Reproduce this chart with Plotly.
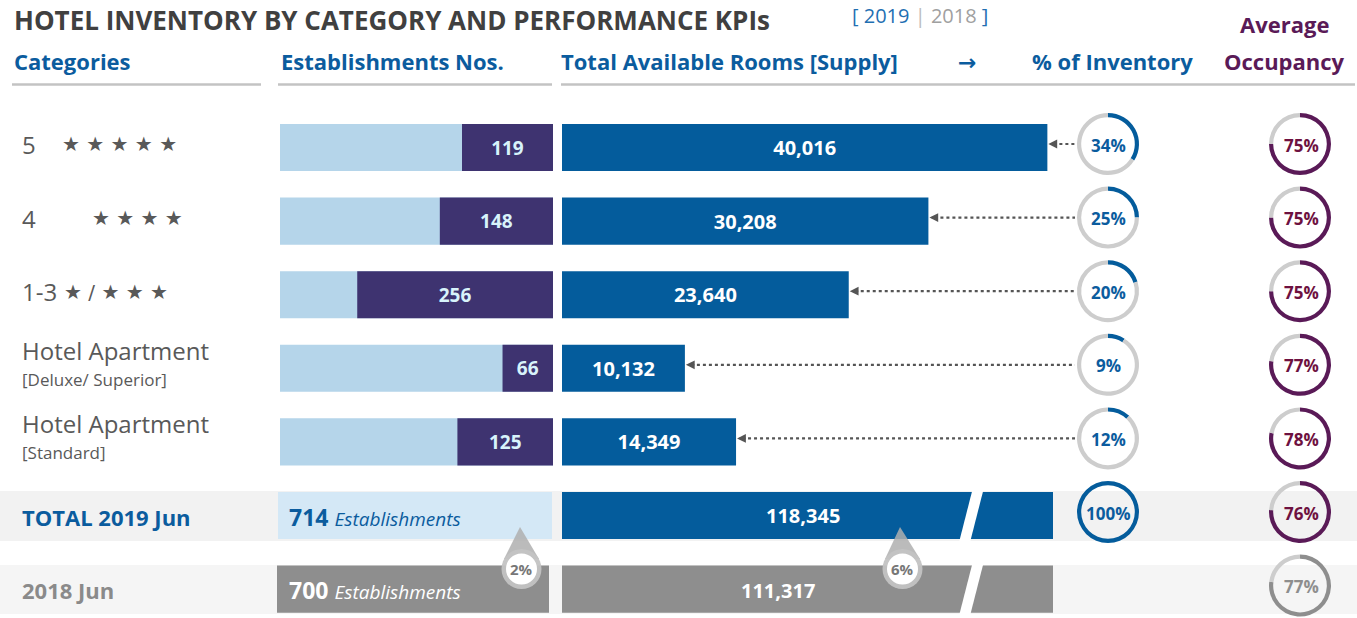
import plotly.graph_objects as go

# ---------------- data ----------------
categories = ["5", "4", "1-3", "Hotel Apartment", "Hotel Apartment"]
cat_stars = ["★ ★ ★ ★ ★", "★ ★ ★ ★", "★ / ★ ★ ★", "", ""]
cat_sub = ["", "", "", "[Deluxe/ Superior]", "[Standard]"]
establishments = [119, 148, 256, 66, 125]
rooms = [40016, 30208, 23640, 10132, 14349]
inventory_pct = [34, 25, 20, 9, 12]
occupancy_pct = [75, 75, 75, 77, 78]

total_labels = ["TOTAL 2019 Jun", "2018 Jun"]
total_establishments = [714, 700]
total_rooms = [118345, 111317]
total_inventory_pct = [100]
total_occupancy_pct = [76, 77]

# ---------------- geometry helpers ----------------
W, H = 1357, 618
def px(x):
    return x / W
def py(y):
    return 1 - y / H

ROW0, ROWSTEP = 147.5, 73.6
def row_y(i):
    return ROW0 + ROWSTEP * i

EST_D = (280, 553)
EST_R = 357
ROOM_D = (562, 1053)
ROOM_R = 40480

BLUE = "#045c9c"
HBLUE = "#0b5c9e"
PURPLE = "#3e3370"
LBLUE = "#b5d5ea"
GREY = "#8e8e8e"
RING = "#cdcdcd"
OCC = "#5a1a57"
OCCTXT = "#6e1140"
CATG = "#595959"
FONT = "Open Sans, DejaVu Sans, sans-serif"

fig = go.Figure()
shapes = []
ann = []

def txt(x, y, text, size, color, xanchor="left", yanchor="middle", family=FONT):
    ann.append(dict(x=px(x), y=py(y), xref="paper", yref="paper", xanchor=xanchor,
                    yanchor=yanchor, text=text, showarrow=False,
                    font=dict(family=family, size=size, color=color)))

# background strips for total rows
shapes.append(dict(type="rect", xref="paper", yref="paper", x0=0, x1=1,
                   y0=py(541), y1=py(491), fillcolor="#f2f2f2", line_width=0, layer="below"))
shapes.append(dict(type="rect", xref="paper", yref="paper", x0=0, x1=1,
                   y0=py(614), y1=py(565), fillcolor="#f5f5f5", line_width=0, layer="below"))

# light backgrounds behind establishment bars
for i in range(len(establishments)):
    shapes.append(dict(type="rect", xref="x domain", yref="y", x0=0, x1=1,
                       y0=i - 0.32, y1=i + 0.32, fillcolor=LBLUE, line_width=0, layer="below"))
# total establishment panels
shapes.append(dict(type="rect", xref="paper", yref="y", x0=px(278), x1=px(552),
                   y0=5 - 0.32, y1=5 + 0.32, fillcolor="#d4e8f6", line_width=0, layer="below"))
shapes.append(dict(type="rect", xref="paper", yref="y", x0=px(277), x1=px(549),
                   y0=6 - 0.32, y1=6 + 0.32, fillcolor=GREY, line_width=0, layer="below"))

# establishment bars
fig.add_trace(go.Bar(
    orientation="h", y=list(range(len(establishments))), x=establishments,
    xaxis="x", yaxis="y", width=0.64, marker=dict(color=PURPLE, line=dict(width=0)),
    text=[str(v) for v in establishments], textposition="inside", insidetextanchor="middle",
    textangle=0, textfont=dict(family=FONT, size=19, color="#d8f3fb", weight="bold"),
    hoverinfo="skip", showlegend=False))

# room bars
fig.add_trace(go.Bar(
    orientation="h", y=list(range(len(rooms))), x=rooms,
    xaxis="x2", yaxis="y", width=0.64, marker=dict(color=BLUE, line=dict(width=0)),
    text=[f"{v:,}" for v in rooms], textposition="inside", insidetextanchor="middle",
    textangle=0, textfont=dict(family=FONT, size=20, color="white", weight="bold"),
    hoverinfo="skip", showlegend=False))

# total room bars (broken, clipped at axis end)
fig.add_trace(go.Bar(
    orientation="h", y=[5, 6], x=total_rooms, xaxis="x2", yaxis="y", width=0.64,
    marker=dict(color=[BLUE, GREY], line=dict(width=0)), hoverinfo="skip", showlegend=False))

# slashes (bar breaks)
for k in range(2):
    top = row_y(5 + k) - 24
    bot = row_y(5 + k) + 24
    def sx(y):
        return 972.0 + (y - top) * (-12.0 / 47.0)
    yt, yb = top - 2, bot + 2
    path = (f"M {px(sx(yt))} {py(yt)} L {px(sx(yt) + 11)} {py(yt)} "
            f"L {px(sx(yb) + 11)} {py(yb)} L {px(sx(yb))} {py(yb)} Z")
    shapes.append(dict(type="path", xref="paper", yref="paper", path=path,
                       fillcolor="white", line_width=0, layer="above"))

# donuts
def donut(cx, cy, pct, col, r=31):
    fig.add_trace(go.Pie(
        values=[pct, 100 - pct], sort=False, direction="clockwise", rotation=0,
        hole=0.865, marker=dict(colors=[col, RING], line=dict(width=0)),
        textinfo="none", hoverinfo="skip", showlegend=False,
        domain=dict(x=[px(cx - r), px(cx + r)], y=[py(cy + r), py(cy - r)])))

INV_X, OCC_X = 1108, 1300
for i, p in enumerate(inventory_pct):
    cy = row_y(i) - 3.5
    donut(INV_X, cy, p, BLUE)
    txt(INV_X, cy + 1, f"<b>{p}%</b>", 17, HBLUE, "center")
cy = row_y(5) - 3.5
donut(INV_X, cy, total_inventory_pct[0], BLUE)
txt(INV_X, cy + 1, f"<b>{total_inventory_pct[0]}%</b>", 17, HBLUE, "center")

for i, p in enumerate(occupancy_pct + total_occupancy_pct[:1]):
    cy = row_y(i) - 3.5
    donut(OCC_X, cy, p, OCC)
    txt(OCC_X + 1, cy + 1, f"<b>{p}%</b>", 17, OCCTXT, "center")
cy = row_y(6) - 3.5
donut(OCC_X, cy, total_occupancy_pct[1], GREY)
txt(OCC_X + 1, cy + 1, f"<b>{total_occupancy_pct[1]}%</b>", 17, GREY, "center")

# dotted connectors from donut to bar end
for i, v in enumerate(rooms):
    end_px = ROOM_D[0] + v / ROOM_R * (ROOM_D[1] - ROOM_D[0])
    yy = row_y(i) - 3.5
    shapes.append(dict(type="line", xref="paper", yref="paper", x0=px(end_px + 6), x1=px(INV_X - 33),
                       y0=py(yy), y1=py(yy), line=dict(color="#555555", width=2.2, dash="dot")))
    ann.append(dict(x=px(end_px + 1), y=py(yy), xref="paper", yref="paper", text="",
                    showarrow=True, ax=10, ay=0, arrowhead=2, arrowsize=1.1, arrowwidth=1.6,
                    arrowcolor="#555555"))

# drops with % change
def drop(tipx, tipy, cx, cy, label):
    path = (f"M {px(tipx)} {py(tipy)} L {px(cx + 17.5)} {py(cy - 10)} "
            f"L {px(cx - 17.5)} {py(cy - 10)} Z")
    shapes.append(dict(type="path", xref="paper", yref="paper", path=path,
                       fillcolor="rgba(175,175,175,0.85)", line_width=0, layer="above"))
    shapes.append(dict(type="circle", xref="paper", yref="paper", x0=px(cx - 20), x1=px(cx + 20),
                       y0=py(cy + 20), y1=py(cy - 20), fillcolor="rgba(195,195,195,0.95)",
                       line_width=0, layer="above"))
    shapes.append(dict(type="circle", xref="paper", yref="paper", x0=px(cx - 15.5), x1=px(cx + 15.5),
                       y0=py(cy + 15.5), y1=py(cy - 15.5), fillcolor="white",
                       line_width=0, layer="above"))
    txt(cx, cy, f"<b>{label}</b>", 15, "#777777", "center")

est_chg = round((total_establishments[0] - total_establishments[1]) / total_establishments[1] * 100)
room_chg = int((total_rooms[0] - total_rooms[1]) / total_rooms[1] * 100)
drop(520, 527, 521.5, 569, f"{est_chg}%")
drop(900, 527, 902.5, 569, f"{room_chg}%")

# ---------------- texts ----------------
txt(12, 0, "<b>HOTEL INVENTORY BY CATEGORY AND PERFORMANCE KPIs</b>", 26, "#404040", "left", "top")
txt(850, 0, ("<span style='color:#1f6fb2'>[ 2019 </span><span style='color:#bbbbbb'>|</span>"
             "<span style='color:#a0a0a0'> 2018 </span><span style='color:#1f6fb2'>]</span>"),
    20, "#1f6fb2", "left", "top")

headers = [("Categories", 12), ("Establishments Nos.", 279), ("Total Available Rooms [Supply]", 559),
           ("→", 956), ("% of Inventory", 1030)]
for t, x in headers:
    txt(x, 61, f"<b>{t}</b>", 22, HBLUE)
txt(1284, 24, "<b>Average</b>", 22, OCC, "center")
txt(1284, 61, "<b>Occupancy</b>", 22, OCC, "center")

for x0, x1 in [(12, 261), (278, 552), (561, 1355)]:
    shapes.append(dict(type="line", xref="paper", yref="paper", x0=px(x0), x1=px(x1),
                       y0=py(84.5), y1=py(84.5), line=dict(color="#c3c3c3", width=2.5)))

star_x = [60, 90, 62]
for i, c in enumerate(categories):
    y = row_y(i) - 3
    if cat_sub[i]:
        txt(20, y - 15, c, 24, CATG)
        txt(20, y + 14, cat_sub[i], 17, CATG)
    else:
        txt(20, y, c, 24, CATG)
        txt(star_x[i], y, cat_stars[i], 20, CATG, family="DejaVu Sans")

tot_cols = [HBLUE, "#8a8a8a"]
est_cols = [HBLUE, "white"]
for k in range(2):
    y = row_y(5 + k)
    txt(20, y + 1, f"<b>{total_labels[k]}</b>", 22, tot_cols[k])
    txt(287, y + 1, (f"<b>{total_establishments[k]}</b> "
                     f"<i><span style='font-size:19px'>Establishments</span></i>"), 23, est_cols[k])
txt(803, row_y(5), f"<b>{total_rooms[0]:,}</b>", 20, "white", "center")
txt(778, row_y(6) + 1, f"<b>{total_rooms[1]:,}</b>", 20, "white", "center")

# ---------------- layout ----------------
ytop = -ROW0 / ROWSTEP
ybot = (H - ROW0) / ROWSTEP
fig.update_layout(
    width=W, height=H, margin=dict(l=0, r=0, t=0, b=0),
    paper_bgcolor="white", plot_bgcolor="rgba(0,0,0,0)",
    barmode="overlay", showlegend=False,
    font=dict(family=FONT),
    xaxis=dict(domain=[px(EST_D[0]), px(EST_D[1])], range=[EST_R, 0], visible=False,
               fixedrange=True, anchor="y"),
    xaxis2=dict(domain=[px(ROOM_D[0]), px(ROOM_D[1])], range=[0, ROOM_R], visible=False,
                fixedrange=True, anchor="y"),
    yaxis=dict(domain=[0, 1], range=[ybot, ytop], visible=False, fixedrange=True),
    shapes=shapes, annotations=ann,
)

fig.write_html("out.html")
